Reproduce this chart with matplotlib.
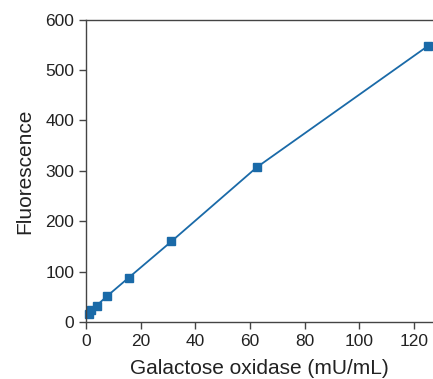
import matplotlib.pyplot as plt

plt.rcParams['font.family'] = ['Liberation Sans', 'DejaVu Sans']

# galactose oxidase dilution series
conc = [0.98, 1.95, 3.9, 7.8, 15.6, 31.25, 62.5, 125]
fluor = [17, 25, 33, 52, 88, 160, 307, 547]

fig = plt.figure(figsize=(4.33, 3.79), dpi=100)
ax = fig.add_axes([0.1986, 0.150, 0.8014, 0.7985])

ax.plot(conc, fluor, color='#1a6aa8', lw=1.3, marker='s', ms=6, clip_on=False)

ax.set_xlim(0, 127)
ax.set_ylim(0, 600)
ax.set_xticks([0, 20, 40, 60, 80, 100, 120])
ax.set_yticks([0, 100, 200, 300, 400, 500, 600])
ax.spines['right'].set_visible(False)
for s in ['left', 'bottom', 'top']:
    ax.spines[s].set_color('#444444')
    ax.spines[s].set_linewidth(1.0)
ax.tick_params(direction='out', length=5, width=1, color='#444444',
               labelsize=12.5, labelcolor='#222222')
ax.set_xlabel('Galactose oxidase (mU/mL)', fontsize=15, color='#222222', labelpad=7)
ax.set_ylabel('Fluorescence', fontsize=15, color='#222222', labelpad=8)

fig.savefig('out.png', dpi=100)
